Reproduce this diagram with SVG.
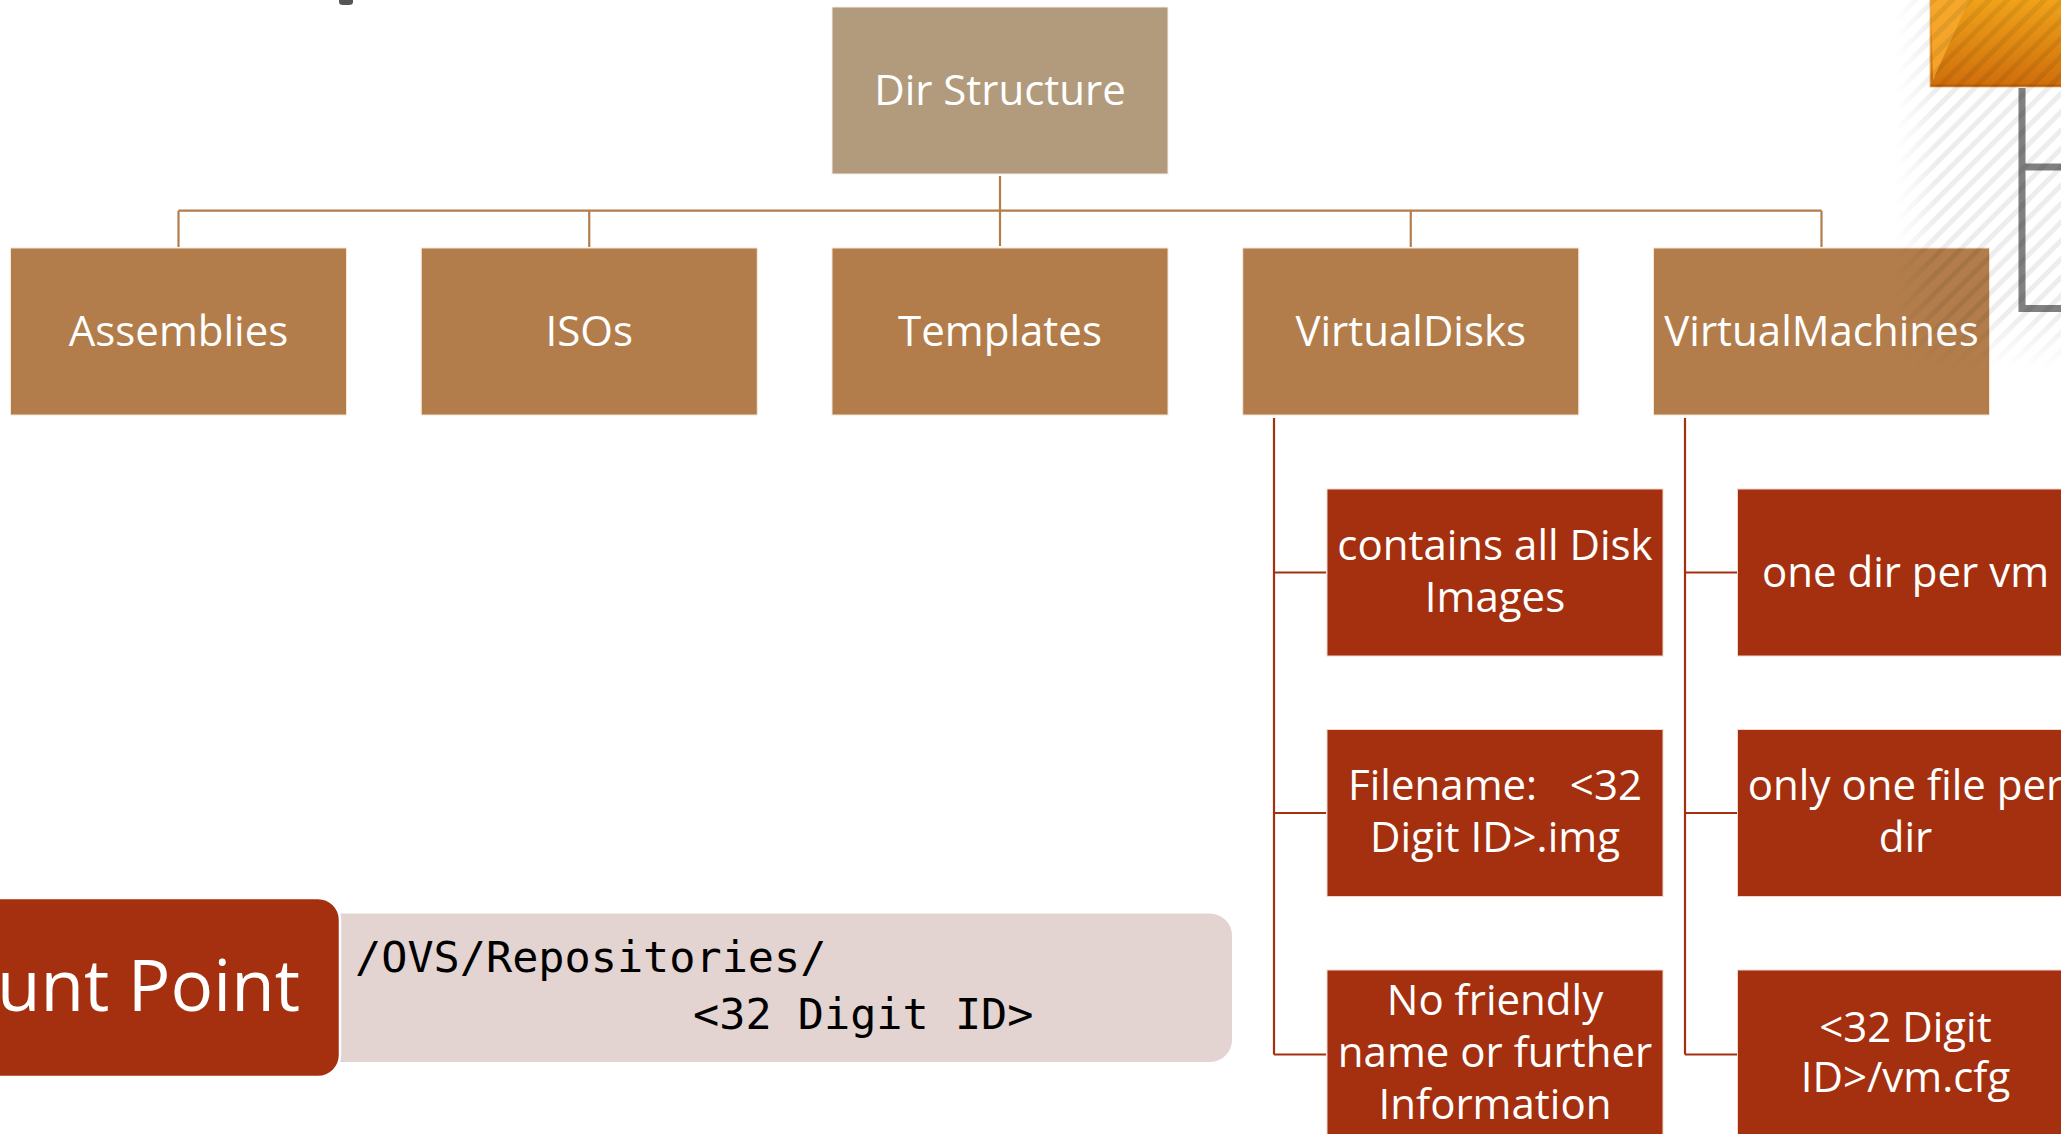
<svg xmlns="http://www.w3.org/2000/svg" width="2061" height="1134" viewBox="0 0 2061 1134">
<style>
.t{font-family:"Open Sans","Liberation Sans",sans-serif;font-size:42px;fill:#ffffff;text-anchor:middle}
.root{fill:#B19B7C;stroke:#F3EEE8;stroke-width:1}
.l1{fill:#B27D4B;stroke:#F3E6DA;stroke-width:1}
.leaf{fill:#A5300F;stroke:#F0D8D0;stroke-width:1}
.br{fill:none;stroke:#B47C4A;stroke-width:2.2}
.rd{fill:none;stroke:#A5300F;stroke-width:2.2}
.mono{font-family:"DejaVu Sans Mono","Liberation Mono",monospace;font-size:43.5px;fill:#000000}
</style>
<defs>
<linearGradient id="og" x1="0" y1="0" x2="0" y2="1">
<stop offset="0" stop-color="#F0A419"/>
<stop offset="1" stop-color="#CF6E0C"/>
</linearGradient>
<pattern id="hatch" width="13" height="13" patternUnits="userSpaceOnUse" patternTransform="rotate(45)">
<rect x="0" y="0" width="5" height="13" fill="#000000"/>
</pattern>
<linearGradient id="hfade" x1="0" y1="0" x2="1" y2="0">
<stop offset="0" stop-color="#ffffff" stop-opacity="0"/>
<stop offset="0.25" stop-color="#ffffff" stop-opacity="1"/>
<stop offset="1" stop-color="#ffffff" stop-opacity="1"/>
</linearGradient>
<linearGradient id="vfade" x1="0" y1="0" x2="0" y2="1">
<stop offset="0" stop-color="#ffffff" stop-opacity="1"/>
<stop offset="0.85" stop-color="#ffffff" stop-opacity="1"/>
<stop offset="1" stop-color="#ffffff" stop-opacity="0"/>
</linearGradient>
<mask id="hm">
<rect x="1895" y="0" width="166" height="370" fill="url(#hfade)"/>
</mask>
<mask id="vm">
<rect x="1895" y="0" width="166" height="370" fill="url(#vfade)"/>
</mask>
</defs>
<rect x="0" y="0" width="2061" height="1134" fill="#ffffff"/>
<path d="M339,0 H353 V2 Q353,5 349,5 H343 Q339,5 339,2 Z" fill="#555555"/>

<g id="connectors">
<path class="br" d="M1000,176 V246 M178.5,210.7 H1821.5 M178.5,210.7 V247 M589.25,210.7 V247 M1410.75,210.7 V247 M1821.5,210.7 V247"/>
<path class="rd" d="M1274,418 V1054.5 M1274,572.5 H1326 M1274,813 H1326 M1274,1054.5 H1326"/>
<path class="rd" d="M1685,418 V1054.5 M1685,572.5 H1737 M1685,813 H1737 M1685,1054.5 H1737"/>
</g>

<g id="dir-structure">
<rect class="root" x="832" y="7" width="336" height="167"/>
<text class="t" x="1000" y="105">Dir Structure</text>
</g>

<g id="assemblies">
<rect class="l1" x="10.5" y="248" width="336" height="167"/>
<text class="t" x="178.5" y="346">Assemblies</text>
</g>
<g id="isos">
<rect class="l1" x="421.25" y="248" width="336" height="167"/>
<text class="t" x="589.25" y="346">ISOs</text>
</g>
<g id="templates">
<rect class="l1" x="832" y="248" width="336" height="167"/>
<text class="t" x="1000" y="346">Templates</text>
</g>
<g id="virtualdisks">
<rect class="l1" x="1242.75" y="248" width="336" height="167"/>
<text class="t" x="1410.75" y="346">VirtualDisks</text>
</g>
<g id="virtualmachines">
<rect class="l1" x="1653.5" y="248" width="336" height="167"/>
<text class="t" x="1821.5" y="346">VirtualMachines</text>
</g>

<g id="vd-1">
<rect class="leaf" x="1327" y="489" width="336" height="167"/>
<text class="t" x="1495" y="560">contains all Disk</text>
<text class="t" x="1495" y="612">Images</text>
</g>
<g id="vd-2">
<rect class="leaf" x="1327" y="729.5" width="336" height="167"/>
<text class="t" x="1495" y="800" xml:space="preserve">Filename:   &lt;32</text>
<text class="t" x="1495" y="852">Digit ID&gt;.img</text>
</g>
<g id="vd-3">
<rect class="leaf" x="1327" y="970" width="336" height="167"/>
<text class="t" x="1495" y="1015">No friendly</text>
<text class="t" x="1495" y="1067">name or further</text>
<text class="t" x="1495" y="1119">Information</text>
</g>

<g id="vm-1">
<rect class="leaf" x="1737.5" y="489" width="336" height="167"/>
<text class="t" x="1905.5" y="587">one dir per vm</text>
</g>
<g id="vm-2">
<rect class="leaf" x="1737.5" y="729.5" width="336" height="167"/>
<text class="t" x="1905.5" y="800">only one file per</text>
<text class="t" x="1905.5" y="852">dir</text>
</g>
<g id="vm-3">
<rect class="leaf" x="1737.5" y="970" width="336" height="167"/>
<text class="t" x="1905.5" y="1042">&lt;32 Digit</text>
<text class="t" x="1905.5" y="1092">ID&gt;/vm.cfg</text>
</g>

<g id="mount-point">
<rect x="-200" y="913.5" width="1432" height="148.5" rx="22" fill="#E3D3D1"/>
<rect x="-200" y="898" width="540" height="179" rx="22" fill="#A5300F" stroke="#ffffff" stroke-width="2.5"/>
<text x="300" y="1011" font-family="Open Sans, Liberation Sans, sans-serif" font-size="71" fill="#ffffff" text-anchor="end">Mount Point</text>
<text class="mono" x="355" y="972">/OVS/Repositories/</text>
<text class="mono" x="693" y="1029">&lt;32 Digit ID&gt;</text>
</g>

<g id="corner-graphic">
<path d="M2022,88 V308.5 H2061 M2022,167 H2061" fill="none" stroke="#808080" stroke-width="7"/>
<rect x="1930" y="-2" width="135" height="89" fill="url(#og)" stroke="#EFC08A" stroke-width="1"/>
<path d="M1931,0 H1969 L1933,80 Z" fill="#F6A82C" opacity="0.9"/>
<line x1="1930.5" y1="85.5" x2="2061" y2="85.5" stroke="#B85E08" stroke-width="2"/>
<g mask="url(#hm)">
<g mask="url(#vm)">
<rect x="1895" y="0" width="166" height="370" fill="url(#hatch)" opacity="0.07"/>
</g>
</g>
</g>
</svg>
